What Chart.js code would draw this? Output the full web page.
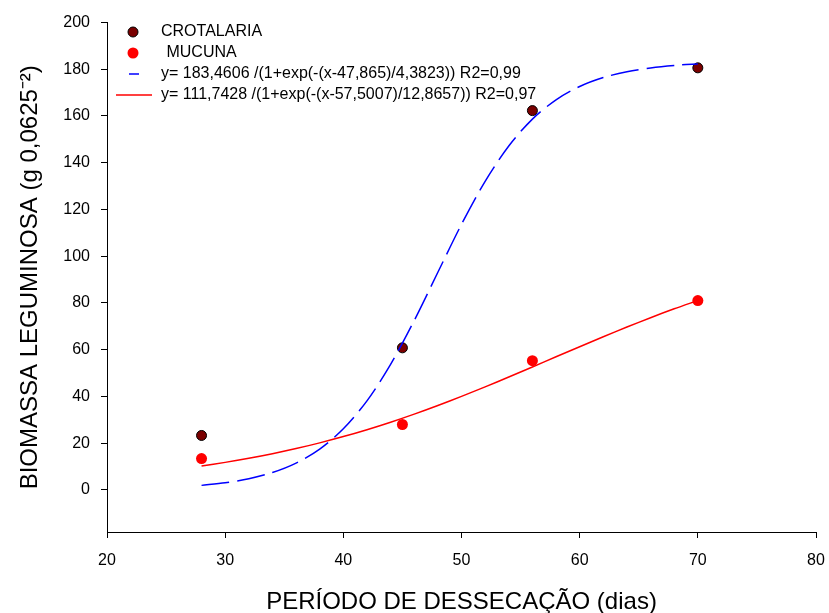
<!DOCTYPE html>
<html>
<head>
<meta charset="utf-8">
<script src="https://cdn.jsdelivr.net/npm/chart.js@4/dist/chart.umd.min.js"></script>
<style>
  html, body { margin: 0; padding: 0; background: #fff; }
</style>
</head>
<body>
<canvas id="myChart" width="829" height="613"></canvas>
<script>
// observed data
let days = [28, 45, 56, 70];
let crotalaria = [23.3, 60.8, 162.3, 180.6];
let mucuna = [13.4, 28, 55.3, 81];

// fitted curves
let fitDays = [28, 30, 32, 34, 36, 38, 40, 42, 44, 46, 48, 50, 52, 54, 56, 58, 60, 62, 64, 66, 68, 70];
let crotalariaFit = [1.95, 3.06, 4.78, 7.44, 11.47, 17.47, 26.14, 38.12, 53.7, 72.5, 93.13, 113.65,
    132.06, 147.17, 158.66, 166.93, 172.63, 176.46, 178.95, 180.58, 181.63, 182.29];
let mucunaFit = [10.25, 11.79, 13.53, 15.49, 17.69, 20.13, 22.82, 25.77, 28.98, 32.44, 36.13, 40.03,
    44.11, 48.32, 52.62, 56.96, 61.28, 65.54, 69.69, 73.69, 77.49, 81.06];

let labels = ['CROTALARIA', ' MUCUNA',
    'y= 183,4606 /(1+exp(-(x-47,865)/4,3823)) R2=0,99',
    'y= 111,7428 /(1+exp(-(x-57,5007)/12,8657)) R2=0,97'];

let xTicks = [20, 30, 40, 50, 60, 70, 80];
let yTicks = [0, 20, 40, 60, 80, 100, 120, 140, 160, 180, 200];

const pts = (xs, ys) => xs.map((x, i) => ({ x: x, y: ys[i] }));

const FONT = 'Arial, "Liberation Sans", sans-serif';

// legend drawn inside the plot, top left
const legendBox = {
    id: 'legendBox',
    afterDraw(chart) {
        let ctx = chart.ctx;
        ctx.save();
        ctx.font = '16px ' + FONT;
        ctx.textBaseline = 'middle';

        // crotalaria
        ctx.beginPath();
        ctx.arc(133, 32, 5, 0, Math.PI * 2);
        ctx.fillStyle = '#7a0000';
        ctx.fill();
        ctx.lineWidth = 1;
        ctx.strokeStyle = '#000';
        ctx.stroke();
        ctx.fillStyle = '#000';
        ctx.fillText(labels[0], 161, 32);

        // mucuna
        ctx.beginPath();
        ctx.arc(133, 53, 5.5, 0, Math.PI * 2);
        ctx.fillStyle = '#ff0000';
        ctx.fill();
        ctx.fillStyle = '#000';
        ctx.fillText(labels[1], 162, 53);

        // blue fit
        ctx.beginPath();
        ctx.moveTo(129, 74);
        ctx.lineTo(139, 74);
        ctx.strokeStyle = '#0000ff';
        ctx.lineWidth = 1.5;
        ctx.stroke();
        ctx.fillText(labels[2], 161, 74);

        // red fit
        ctx.beginPath();
        ctx.moveTo(116, 95);
        ctx.lineTo(152, 95);
        ctx.strokeStyle = '#ff0000';
        ctx.stroke();
        ctx.fillText(labels[3], 161, 95);
        ctx.restore();
    }
};

var ctx = document.getElementById('myChart').getContext('2d');
var myChart = new Chart(ctx, {
    type: 'scatter',
    data: {
        datasets: [{
            label: labels[2],
            data: pts(fitDays, crotalariaFit),
            showLine: true,
            borderColor: '#0000ff',
            borderWidth: 1.5,
            borderDash: [28, 8],
            pointRadius: 0,
            tension: 0.3
        }, {
            label: labels[3],
            data: pts(fitDays, mucunaFit),
            showLine: true,
            borderColor: '#ff0000',
            borderWidth: 1.5,
            pointRadius: 0,
            tension: 0.3
        }, {
            label: labels[0],
            data: pts(days, crotalaria),
            backgroundColor: '#7a0000',
            borderColor: '#000',
            borderWidth: 1,
            pointRadius: 5
        }, {
            label: labels[1],
            data: pts(days, mucuna),
            backgroundColor: '#ff0000',
            borderColor: '#ff0000',
            borderWidth: 0,
            pointRadius: 5.5
        }]
    },
    options: {
        responsive: false,
        animation: false,
        layout: { padding: { left: 0, top: 22.5, right: 13, bottom: 0 } },
        plugins: {
            legend: { display: false },
            tooltip: { enabled: false }
        },
        scales: {
            x: {
                type: 'linear',
                min: 20,
                max: 80,
                afterBuildTicks: s => { s.ticks = xTicks.map(v => ({ value: v })); },
                afterFit: s => { s.height = 81; s.paddingLeft = 0; s.paddingRight = 0; },
                grid: { drawOnChartArea: false, tickLength: 6, color: '#000' },
                border: { color: '#000', width: 1 },
                ticks: { color: '#000', font: { family: FONT, size: 16 }, padding: 13, maxRotation: 0 },
                title: {
                    display: true,
                    text: 'PERÍODO DE DESSECAÇÃO (dias)',
                    color: '#000',
                    font: { family: FONT, size: 24, lineHeight: 0.85 },
                    padding: { top: 0, bottom: 0 }
                }
            },
            y: {
                min: -18,
                max: 200,
                afterBuildTicks: s => { s.ticks = yTicks.map(v => ({ value: v })); },
                afterFit: s => { s.width = 107; },
                grid: { drawOnChartArea: false, tickLength: 6, color: '#000' },
                border: { color: '#000', width: 1 },
                ticks: { color: '#000', font: { family: FONT, size: 16 }, padding: 11 },
                title: {
                    display: true,
                    text: 'BIOMASSA LEGUMINOSA (g 0,0625⁻²)',
                    color: '#000',
                    font: { family: FONT, size: 24 },
                    padding: { top: 16, bottom: 0 }
                }
            }
        }
    },
    plugins: [legendBox]
});
</script>
</body>
</html>
